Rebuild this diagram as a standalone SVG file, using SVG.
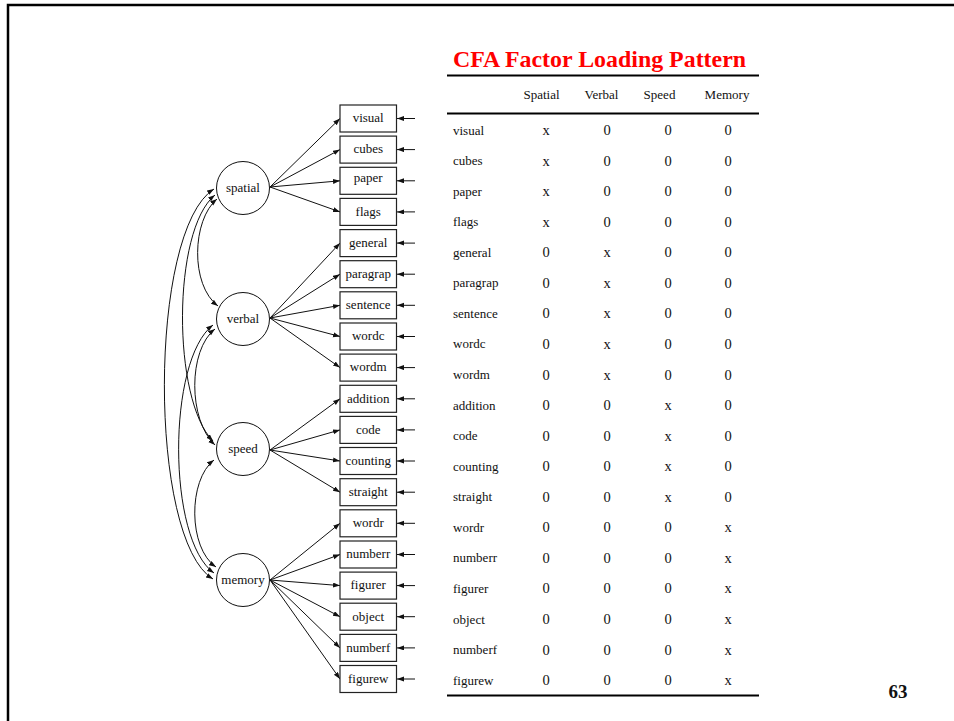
<svg xmlns="http://www.w3.org/2000/svg" width="954" height="721" viewBox="0 0 954 721">
<style>
text{font-family:"Liberation Serif","Times New Roman",serif;fill:#111}
.lab{font-size:13px;text-anchor:middle}
.hd{font-size:13px;text-anchor:middle}
.rl{font-size:13px}
.v{font-size:14.5px;text-anchor:middle}
.box{fill:#fff;stroke:#222;stroke-width:1.2}
.fac{fill:#fff;stroke:#111;stroke-width:1}
.ln{fill:none;stroke:#111;stroke-width:1;marker-end:url(#ah)}
.cv{fill:none;stroke:#111;stroke-width:1;marker-start:url(#ah);marker-end:url(#ah)}
.rule{stroke:#000;stroke-width:2}
</style>
<defs>
<marker id="ah" markerUnits="userSpaceOnUse" markerWidth="8" markerHeight="6" refX="7" refY="2.5" orient="auto-start-reverse">
<path d="M0,0 L7,2.5 L0,5 z" fill="#111"/>
</marker>
</defs>
<rect width="954" height="721" fill="#fff"/>
<path d="M8,721 V5 H954" fill="none" stroke="#000" stroke-width="2.5"/>

<g id="connectors">
<line class="ln" x1="270" y1="187" x2="340" y2="118.5"/>
<line class="ln" x1="270" y1="187" x2="340" y2="149.6"/>
<line class="ln" x1="270" y1="187" x2="340" y2="180.8"/>
<line class="ln" x1="270" y1="187" x2="340" y2="211.9"/>
<line class="ln" x1="270" y1="318" x2="340" y2="243.1"/>
<line class="ln" x1="270" y1="318" x2="340" y2="274.2"/>
<line class="ln" x1="270" y1="318" x2="340" y2="305.3"/>
<line class="ln" x1="270" y1="318" x2="340" y2="336.5"/>
<line class="ln" x1="270" y1="318" x2="340" y2="367.6"/>
<line class="ln" x1="270" y1="450" x2="340" y2="398.8"/>
<line class="ln" x1="270" y1="450" x2="340" y2="429.9"/>
<line class="ln" x1="270" y1="450" x2="340" y2="461.0"/>
<line class="ln" x1="270" y1="450" x2="340" y2="492.2"/>
<line class="ln" x1="270" y1="580" x2="340" y2="523.3"/>
<line class="ln" x1="270" y1="580" x2="340" y2="554.5"/>
<line class="ln" x1="270" y1="580" x2="340" y2="585.6"/>
<line class="ln" x1="270" y1="580" x2="340" y2="616.7"/>
<line class="ln" x1="270" y1="580" x2="340" y2="647.9"/>
<line class="ln" x1="270" y1="580" x2="340" y2="679.0"/>
<line class="ln" x1="415" y1="118.5" x2="397" y2="118.5"/>
<line class="ln" x1="415" y1="149.6" x2="397" y2="149.6"/>
<line class="ln" x1="415" y1="180.8" x2="397" y2="180.8"/>
<line class="ln" x1="415" y1="211.9" x2="397" y2="211.9"/>
<line class="ln" x1="415" y1="243.1" x2="397" y2="243.1"/>
<line class="ln" x1="415" y1="274.2" x2="397" y2="274.2"/>
<line class="ln" x1="415" y1="305.3" x2="397" y2="305.3"/>
<line class="ln" x1="415" y1="336.5" x2="397" y2="336.5"/>
<line class="ln" x1="415" y1="367.6" x2="397" y2="367.6"/>
<line class="ln" x1="415" y1="398.8" x2="397" y2="398.8"/>
<line class="ln" x1="415" y1="429.9" x2="397" y2="429.9"/>
<line class="ln" x1="415" y1="461.0" x2="397" y2="461.0"/>
<line class="ln" x1="415" y1="492.2" x2="397" y2="492.2"/>
<line class="ln" x1="415" y1="523.3" x2="397" y2="523.3"/>
<line class="ln" x1="415" y1="554.5" x2="397" y2="554.5"/>
<line class="ln" x1="415" y1="585.6" x2="397" y2="585.6"/>
<line class="ln" x1="415" y1="616.7" x2="397" y2="616.7"/>
<line class="ln" x1="415" y1="647.9" x2="397" y2="647.9"/>
<line class="ln" x1="415" y1="679.0" x2="397" y2="679.0"/>
<path class="cv" d="M217,199 C192,220 190,285 218,306"/>
<path class="cv" d="M215,195 C172,230 172,400 213,441"/>
<path class="cv" d="M214,189 C148,230 148,540 213,579"/>
<path class="cv" d="M215,329 C188,350 188,420 215,445"/>
<path class="cv" d="M213,325 C167,360 167,540 214,573"/>
<path class="cv" d="M214,460 C188,480 188,548 216,567"/>
</g>

<g id="spatial"><circle class="fac" cx="243" cy="188" r="26.5"/><text class="lab" x="243" y="192">spatial</text></g>
<g id="verbal"><circle class="fac" cx="243" cy="319" r="26.5"/><text class="lab" x="243" y="323">verbal</text></g>
<g id="speed"><circle class="fac" cx="243" cy="449" r="26.5"/><text class="lab" x="243" y="453">speed</text></g>
<g id="memory"><circle class="fac" cx="243" cy="580" r="26.5"/><text class="lab" x="243" y="584">memory</text></g>

<g id="visual"><rect class="box" x="340" y="105" width="56.5" height="27"/><text class="lab" x="368.2" y="122.3">visual</text></g>
<g id="cubes"><rect class="box" x="340" y="136.1" width="56.5" height="27"/><text class="lab" x="368.2" y="153.4">cubes</text></g>
<g id="paper"><rect class="box" x="340" y="167.3" width="56.5" height="27"/><text class="lab" x="368.2" y="181.6">paper</text></g>
<g id="flags"><rect class="box" x="340" y="198.4" width="56.5" height="27"/><text class="lab" x="368.2" y="215.5">flags</text></g>
<g id="general"><rect class="box" x="340" y="229.6" width="56.5" height="27"/><text class="lab" x="368.2" y="246.9">general</text></g>
<g id="paragrap"><rect class="box" x="340" y="260.7" width="56.5" height="27"/><text class="lab" x="368.2" y="278">paragrap</text></g>
<g id="sentence"><rect class="box" x="340" y="291.8" width="56.5" height="27"/><text class="lab" x="368.2" y="309.1">sentence</text></g>
<g id="wordc"><rect class="box" x="340" y="323" width="56.5" height="27"/><text class="lab" x="368.2" y="340.3">wordc</text></g>
<g id="wordm"><rect class="box" x="340" y="354.1" width="56.5" height="27"/><text class="lab" x="368.2" y="371.4">wordm</text></g>
<g id="addition"><rect class="box" x="340" y="385.3" width="56.5" height="27"/><text class="lab" x="368.2" y="402.6">addition</text></g>
<g id="code"><rect class="box" x="340" y="416.4" width="56.5" height="27"/><text class="lab" x="368.2" y="433.7">code</text></g>
<g id="counting"><rect class="box" x="340" y="447.5" width="56.5" height="27"/><text class="lab" x="368.2" y="464.8">counting</text></g>
<g id="straight"><rect class="box" x="340" y="478.7" width="56.5" height="27"/><text class="lab" x="368.2" y="496">straight</text></g>
<g id="wordr"><rect class="box" x="340" y="509.8" width="56.5" height="27"/><text class="lab" x="368.2" y="527.1">wordr</text></g>
<g id="numberr"><rect class="box" x="340" y="541" width="56.5" height="27"/><text class="lab" x="368.2" y="558.3">numberr</text></g>
<g id="figurer"><rect class="box" x="340" y="572.1" width="56.5" height="27"/><text class="lab" x="368.2" y="589.4">figurer</text></g>
<g id="object"><rect class="box" x="340" y="603.2" width="56.5" height="27"/><text class="lab" x="368.2" y="620.5">object</text></g>
<g id="numberf"><rect class="box" x="340" y="634.4" width="56.5" height="27"/><text class="lab" x="368.2" y="651.7">numberf</text></g>
<g id="figurew"><rect class="box" x="340" y="665.5" width="56.5" height="27"/><text class="lab" x="368.2" y="682.8">figurew</text></g>

<g id="table">
<text x="453" y="67" style="font-size:23.9px;font-weight:bold;fill:#ff0000">CFA Factor Loading Pattern</text>
<line class="rule" x1="447" y1="75.5" x2="759" y2="75.5"/>
<text class="hd" x="541.5" y="99">Spatial</text>
<text class="hd" x="601.5" y="99">Verbal</text>
<text class="hd" x="659.5" y="99">Speed</text>
<text class="hd" x="727" y="99">Memory</text>
<line class="rule" x1="447" y1="113.5" x2="759" y2="113.5"/>
<line class="rule" x1="447" y1="695.5" x2="759" y2="695.5"/>
<text class="rl" x="453" y="134.5">visual</text>
<text class="rl" x="453" y="165.1">cubes</text>
<text class="rl" x="453" y="195.6">paper</text>
<text class="rl" x="453" y="226.2">flags</text>
<text class="rl" x="453" y="256.7">general</text>
<text class="rl" x="453" y="287.3">paragrap</text>
<text class="rl" x="453" y="317.9">sentence</text>
<text class="rl" x="453" y="348.4">wordc</text>
<text class="rl" x="453" y="379">wordm</text>
<text class="rl" x="453" y="409.5">addition</text>
<text class="rl" x="453" y="440.1">code</text>
<text class="rl" x="453" y="470.7">counting</text>
<text class="rl" x="453" y="501.2">straight</text>
<text class="rl" x="453" y="531.8">wordr</text>
<text class="rl" x="453" y="562.3">numberr</text>
<text class="rl" x="453" y="592.9">figurer</text>
<text class="rl" x="453" y="623.5">object</text>
<text class="rl" x="453" y="654">numberf</text>
<text class="rl" x="453" y="684.6">figurew</text>
<text class="v" x="546" y="135">x</text><text class="v" x="607" y="135">0</text><text class="v" x="668" y="135">0</text><text class="v" x="728" y="135">0</text>
<text class="v" x="546" y="165.6">x</text><text class="v" x="607" y="165.6">0</text><text class="v" x="668" y="165.6">0</text><text class="v" x="728" y="165.6">0</text>
<text class="v" x="546" y="196.1">x</text><text class="v" x="607" y="196.1">0</text><text class="v" x="668" y="196.1">0</text><text class="v" x="728" y="196.1">0</text>
<text class="v" x="546" y="226.7">x</text><text class="v" x="607" y="226.7">0</text><text class="v" x="668" y="226.7">0</text><text class="v" x="728" y="226.7">0</text>
<text class="v" x="546" y="257.2">0</text><text class="v" x="607" y="257.2">x</text><text class="v" x="668" y="257.2">0</text><text class="v" x="728" y="257.2">0</text>
<text class="v" x="546" y="287.8">0</text><text class="v" x="607" y="287.8">x</text><text class="v" x="668" y="287.8">0</text><text class="v" x="728" y="287.8">0</text>
<text class="v" x="546" y="318.4">0</text><text class="v" x="607" y="318.4">x</text><text class="v" x="668" y="318.4">0</text><text class="v" x="728" y="318.4">0</text>
<text class="v" x="546" y="348.9">0</text><text class="v" x="607" y="348.9">x</text><text class="v" x="668" y="348.9">0</text><text class="v" x="728" y="348.9">0</text>
<text class="v" x="546" y="379.5">0</text><text class="v" x="607" y="379.5">x</text><text class="v" x="668" y="379.5">0</text><text class="v" x="728" y="379.5">0</text>
<text class="v" x="546" y="410">0</text><text class="v" x="607" y="410">0</text><text class="v" x="668" y="410">x</text><text class="v" x="728" y="410">0</text>
<text class="v" x="546" y="440.6">0</text><text class="v" x="607" y="440.6">0</text><text class="v" x="668" y="440.6">x</text><text class="v" x="728" y="440.6">0</text>
<text class="v" x="546" y="471.2">0</text><text class="v" x="607" y="471.2">0</text><text class="v" x="668" y="471.2">x</text><text class="v" x="728" y="471.2">0</text>
<text class="v" x="546" y="501.7">0</text><text class="v" x="607" y="501.7">0</text><text class="v" x="668" y="501.7">x</text><text class="v" x="728" y="501.7">0</text>
<text class="v" x="546" y="532.3">0</text><text class="v" x="607" y="532.3">0</text><text class="v" x="668" y="532.3">0</text><text class="v" x="728" y="532.3">x</text>
<text class="v" x="546" y="562.8">0</text><text class="v" x="607" y="562.8">0</text><text class="v" x="668" y="562.8">0</text><text class="v" x="728" y="562.8">x</text>
<text class="v" x="546" y="593.4">0</text><text class="v" x="607" y="593.4">0</text><text class="v" x="668" y="593.4">0</text><text class="v" x="728" y="593.4">x</text>
<text class="v" x="546" y="624">0</text><text class="v" x="607" y="624">0</text><text class="v" x="668" y="624">0</text><text class="v" x="728" y="624">x</text>
<text class="v" x="546" y="654.5">0</text><text class="v" x="607" y="654.5">0</text><text class="v" x="668" y="654.5">0</text><text class="v" x="728" y="654.5">x</text>
<text class="v" x="546" y="685.1">0</text><text class="v" x="607" y="685.1">0</text><text class="v" x="668" y="685.1">0</text><text class="v" x="728" y="685.1">x</text>
</g>

<text x="898" y="698" style="font-size:19px;font-weight:bold;text-anchor:middle">63</text>
</svg>
